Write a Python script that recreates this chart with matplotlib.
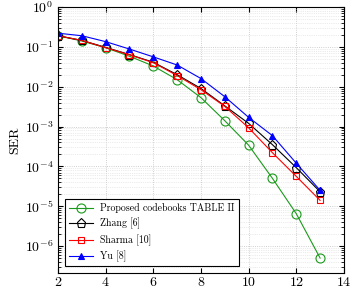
import matplotlib
matplotlib.use("Agg")
import matplotlib.pyplot as plt
from matplotlib.ticker import LogLocator, NullFormatter

snr = [2, 3, 4, 5, 6, 7, 8, 9, 10, 11, 12, 13]
serProposed = [0.19, 0.14, 0.095, 0.058, 0.033, 0.015, 0.0053, 0.0014, 3.4e-4, 5.0e-5, 6.5e-6, 5.0e-7]
serZhang = [0.19, 0.145, 0.097, 0.064, 0.041, 0.02, 0.009, 0.0033, 0.0012, 3.5e-4, 9.3e-5, 2.3e-5]
serSharma = [0.19, 0.145, 0.095, 0.063, 0.04, 0.019, 0.0084, 0.0032, 9.3e-4, 2.2e-4, 5.6e-5, 1.4e-5]
serYu = [0.22, 0.19, 0.135, 0.088, 0.056, 0.035, 0.016, 0.0056, 0.0017, 5.9e-4, 1.2e-4, 2.5e-5]
yTicks = [1e0, 1e-1, 1e-2, 1e-3, 1e-4, 1e-5, 1e-6]

plt.rcParams['font.family'] = 'cmr10'
plt.rcParams['mathtext.fontset'] = 'cm'
plt.rcParams['axes.formatter.use_mathtext'] = True

fig = plt.figure(figsize=(3.56, 2.92), dpi=100)
ax = fig.add_axes([0.163, 0.065, 0.803, 0.911])

ax.semilogy(snr, serProposed, color='#1a9a1a', marker='o', ms=6.5, mfc='none', lw=0.8, mew=0.8,
            label='Proposed codebooks TABLE II')
ax.semilogy(snr, serZhang, color='black', marker='p', ms=6.5, mfc='none', lw=0.8, mew=0.8,
            label='Zhang [6]')
ax.semilogy(snr, serSharma, color='red', marker='s', ms=5, mfc='none', lw=0.8, mew=0.8,
            label='Sharma [10]')
ax.semilogy(snr, serYu, color='blue', marker='^', ms=4.5, lw=0.8, mew=0.8,
            label='Yu [8]')

ax.set_xlim(2, 14)
ax.set_ylim(2.1e-7, 1)
ax.set_xticks([2, 4, 6, 8, 10, 12, 14])
ax.set_yticks(yTicks)
ax.yaxis.set_minor_locator(LogLocator(base=10, subs=range(2, 10), numticks=10))
ax.yaxis.set_minor_formatter(NullFormatter())
ax.tick_params(which='both', direction='in', top=True, right=True, labelsize=10)
ax.tick_params(axis='x', pad=2.5)
ax.tick_params(which='major', length=3.5)
ax.tick_params(which='minor', length=2)
ax.grid(True, which='major', ls=':', color='#c0c0c0', lw=0.6)
ax.grid(True, which='minor', ls=':', color='#d8d8d8', lw=0.5)
ax.set_ylabel('SER', fontsize=10, labelpad=2)

leg = ax.legend(loc='lower left', fontsize=7.1, fancybox=False, edgecolor='black',
                framealpha=1, borderaxespad=0.7, handlelength=2.4, labelspacing=0.5)
leg.get_frame().set_linewidth(0.8)

fig.savefig("out.png", dpi=100)
